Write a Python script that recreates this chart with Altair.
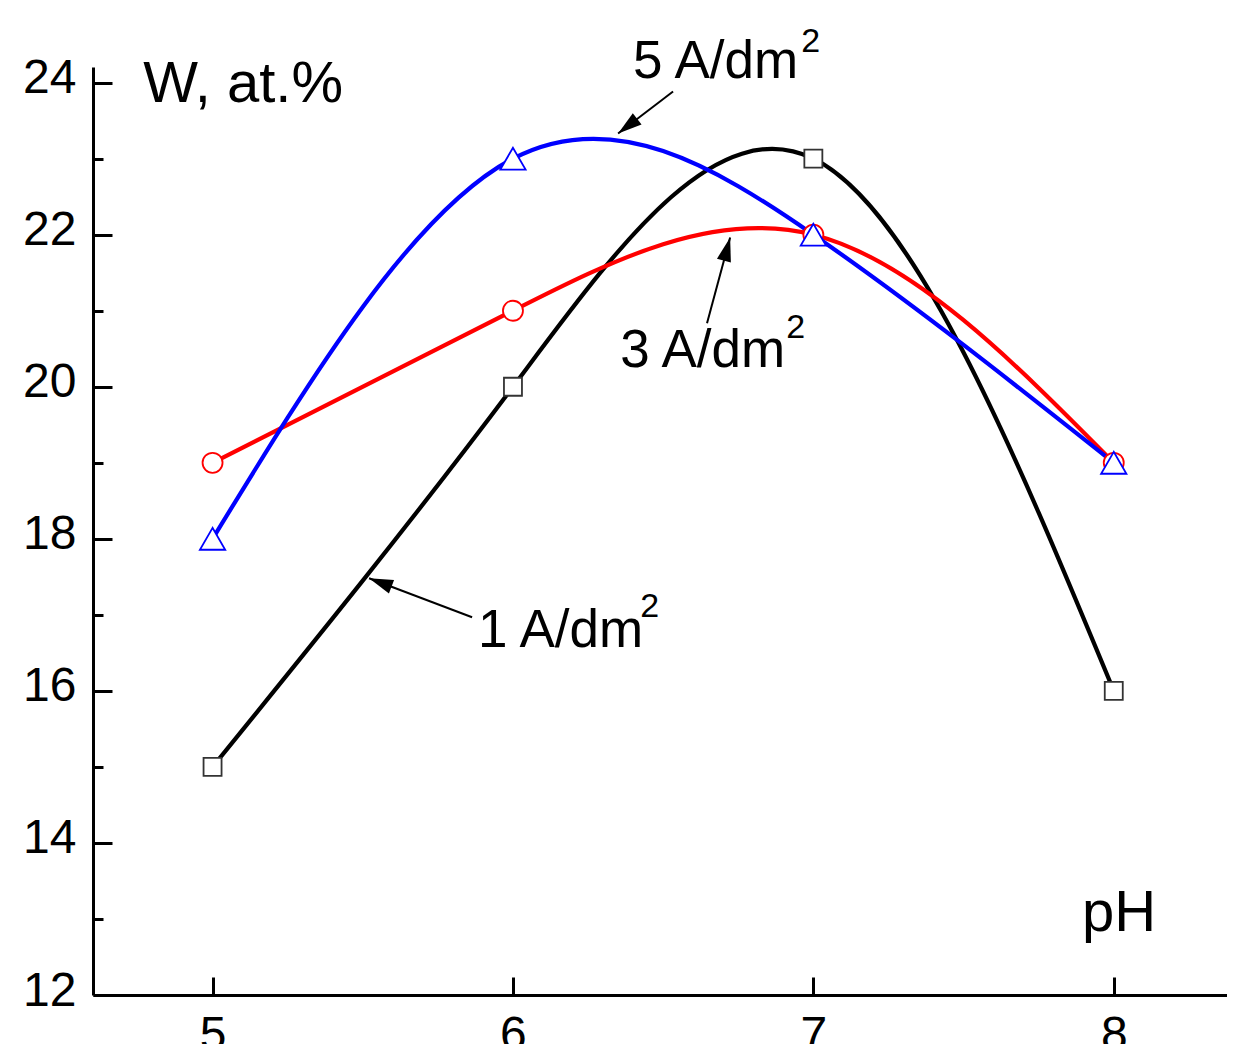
import math
import altair as alt
import pandas as pd

FONT = "Liberation Sans, Arial, sans-serif"

# ---- data ----
ph = [5, 6, 7, 8]
w_1 = [15, 20, 23, 16]   # 1 A/dm2, black squares
w_3 = [19, 21, 22, 19]   # 3 A/dm2, red circles
w_5 = [18, 23, 22, 19]   # 5 A/dm2, blue triangles

series_names = ["1 A/dm2", "3 A/dm2", "5 A/dm2"]
line_colors = ["#000000", "#ff0000", "#0000ff"]
marker_strokes = ["#333333", "#ff0000", "#0000ff"]
marker_shapes = ["square", "circle", "triangle-up"]
marker_sizes = [324, 400, 640]

y_major = [12, 14, 16, 18, 20, 22, 24]
y_minor = [13, 15, 17, 19, 21, 23]
x_ticks = [5, 6, 7, 8]

# annotation texts (data coordinates of the text's left baseline)
ann_text = ["W, at.%", "pH", "5 A/dm", "3 A/dm", "1 A/dm"]
ann_x = [4.769, 7.894, 6.400, 6.357, 5.884]
ann_y = [23.739, 12.848, 24.055, 20.256, 16.575]
ann_size = [58, 58, 53, 53, 53]

sup_text = ["2", "2", "2"]
sup_x = [6.960, 6.910, 6.424]
sup_y = [24.397, 20.637, 16.969]
sup_size = [34, 34, 34]

# arrows: start (near text) -> tip (on curve)
arr_x1 = [6.533, 6.646, 5.864]
arr_y1 = [23.884, 20.834, 16.969]
arr_x2 = [6.350, 6.723, 5.521]
arr_y2 = [23.332, 21.964, 17.482]

# ---- layout ----
W, H = 1134, 928
X_MIN = 4.602
X_MAX = X_MIN + W / 300.4
Y_MIN = 12.0
Y_MAX = 12.0 + H / 76.03

xs = alt.Scale(domain=[X_MIN, X_MAX], nice=False, zero=False)
ys = alt.Scale(domain=[Y_MIN, Y_MAX], nice=False, zero=False)

rows = []
for name, vals, msize in zip(series_names, [w_1, w_3, w_5], marker_sizes):
    for xv, yv in zip(ph, vals):
        rows.append({"pH": xv, "W": yv, "series": name, "msize": msize})
df = pd.DataFrame(rows)

ann_df = pd.DataFrame({"x": ann_x, "y": ann_y, "text": ann_text, "fs": ann_size})
sup_df = pd.DataFrame({"x": sup_x, "y": sup_y, "text": sup_text, "fs": sup_size})

sx = W / (X_MAX - X_MIN)
sy = H / (Y_MAX - Y_MIN)
angles = []
for a, b, c, d in zip(arr_x1, arr_y1, arr_x2, arr_y2):
    dx = (c - a) * sx
    dy = -(d - b) * sy
    angles.append(math.degrees(math.atan2(dx, -dy)) % 360)
arr_df = pd.DataFrame({"x1": arr_x1, "y1": arr_y1, "x2": arr_x2, "y2": arr_y2, "ang": angles})

common_axis = dict(grid=False, title=None, domainColor="black", tickColor="black",
                   labelColor="black", labelFont=FONT)

ax_x_main = alt.Axis(orient="bottom", values=x_ticks, format="d", ticks=False, tickSize=0,
                     domain=True, domainWidth=3, labelFontSize=48, labelPadding=16,
                     labelOverlap=False, labelFlush=False, **common_axis)
ax_y_main = alt.Axis(orient="left", values=y_major, format="d", ticks=False, tickSize=0,
                     domain=True, domainWidth=3, labelFontSize=48, labelPadding=17,
                     labelOffset=-4, labelOverlap=False, labelFlush=False, **common_axis)
ax_x_ticks = alt.Axis(orient="bottom", values=x_ticks, offset=-18, tickSize=18, tickWidth=3,
                      labels=False, domain=False, **common_axis)
ax_y_major = alt.Axis(orient="left", values=y_major, offset=-19, tickSize=19, tickWidth=3,
                      labels=False, domain=False, **common_axis)
ax_y_minor = alt.Axis(orient="left", values=y_minor, offset=-10, tickSize=10, tickWidth=3,
                      labels=False, domain=False, **common_axis)

lines = alt.Chart(df).mark_line(interpolate="natural", strokeWidth=4.2).encode(
    x=alt.X("pH:Q", scale=xs, axis=ax_x_main),
    y=alt.Y("W:Q", scale=ys, axis=ax_y_main),
    color=alt.Color("series:N", scale=alt.Scale(domain=series_names, range=line_colors), legend=None),
)

points = alt.Chart(df).mark_point(filled=False, fill="white", strokeWidth=1.8, opacity=1).encode(
    x=alt.X("pH:Q", scale=xs, axis=ax_x_ticks),
    y=alt.Y("W:Q", scale=ys, axis=ax_y_major),
    stroke=alt.Stroke("series:N", scale=alt.Scale(domain=series_names, range=marker_strokes), legend=None),
    shape=alt.Shape("series:N", scale=alt.Scale(domain=series_names, range=marker_shapes), legend=None),
    size=alt.Size("msize:Q", scale=None, legend=None),
    fill=alt.value("white"),
)

arrow_lines = alt.Chart(arr_df).mark_rule(strokeWidth=2, color="black").encode(
    x=alt.X("x1:Q", scale=xs, axis=None),
    y=alt.Y("y1:Q", scale=ys, axis=None),
    x2="x2:Q",
    y2="y2:Q",
)

arrow_heads = alt.Chart(arr_df).mark_point(
    shape="M0,0L-0.6,2L0.6,2Z", filled=True, fill="black", size=576, opacity=1, strokeWidth=0
).encode(
    x=alt.X("x2:Q", scale=xs, axis=None),
    y=alt.Y("y2:Q", scale=ys, axis=None),
    angle=alt.Angle("ang:Q", scale=None),
)

texts = alt.Chart(ann_df).mark_text(align="left", baseline="alphabetic", font=FONT, color="black").encode(
    x=alt.X("x:Q", scale=xs, axis=None),
    y=alt.Y("y:Q", scale=ys, axis=ax_y_minor),
    text="text:N",
    size=alt.Size("fs:Q", scale=None, legend=None),
)

sups = alt.Chart(sup_df).mark_text(align="left", baseline="alphabetic", font=FONT, color="black").encode(
    x=alt.X("x:Q", scale=xs, axis=None),
    y=alt.Y("y:Q", scale=ys, axis=None),
    text="text:N",
    size=alt.Size("fs:Q", scale=None, legend=None),
)

chart = (
    alt.layer(lines, points, arrow_lines, arrow_heads, texts, sups)
    .resolve_axis(x="independent", y="independent")
    .properties(
        width=W,
        height=H,
        padding={"left": 85, "top": 59, "right": 0, "bottom": 60},
        autosize=alt.AutoSizeParams(type="none"),
        background="white",
    )
    .configure_view(stroke=None)
)

chart.save("out.html", embed_options={"renderer": "svg", "actions": False})
